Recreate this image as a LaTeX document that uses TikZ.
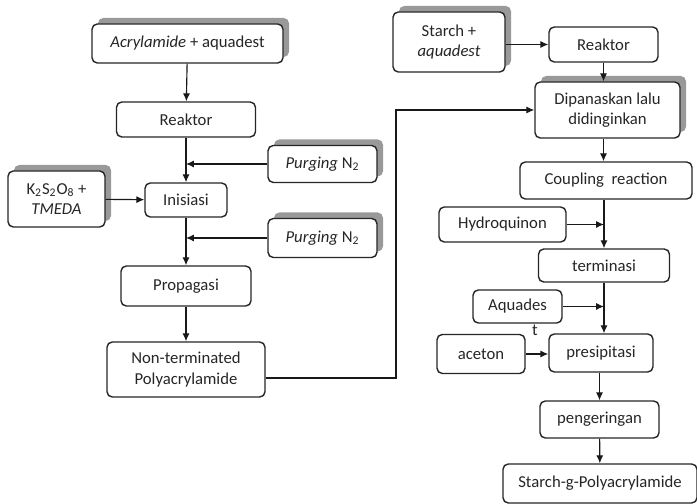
\documentclass[tikz,border=0pt]{standalone}
\usepackage{fontspec}
\setmainfont{Carlito}
\usetikzlibrary{arrows.meta,shadows}

\begin{document}
\begin{tikzpicture}[
  font=\fontsize{9.5}{11.5}\selectfont,
  box/.style={draw=black!85, fill=white, rounded corners=3pt, line width=0.8pt, align=center, inner sep=2pt, text=black!85},
  shadowbox/.style={box, drop shadow={shadow xshift=0.12cm, shadow yshift=0.12cm, fill=black!40, opacity=1, rounded corners=3pt}},
  wh/.style 2 args={minimum width=#1cm, minimum height=#2cm},
  flow/.style={-{Latex[length=4.5pt,width=4pt]}, line width=0.65pt, draw=black!90},
  pipe/.style={line width=0.65pt, draw=black!90}
]
\useasboundingbox (0,0) rectangle (13.94,10.08);

% polyacrylamide side
\node[shadowbox, wh={3.82}{0.78}] (acryl) at (3.75,9.21) {\textit{Acrylamide} + aquadest};
\node[box, wh={2.78}{0.70}] (reaktorA) at (3.72,7.69) {Reaktor};
\node[box, wh={1.64}{0.68}] (inisiasi) at (3.72,6.08) {Inisiasi};
\node[box, wh={2.60}{0.80}] (propagasi) at (3.72,4.36) {Propagasi};
\node[box, wh={3.16}{1.10}] (nonterm) at (3.72,2.69) {Non-terminated\\Polyacrylamide};

\node[shadowbox, wh={2.18}{0.74}] (purgeA) at (6.45,6.80) {\textit{Purging} N\textsubscript{2}};
\node[shadowbox, wh={2.18}{0.78}] (purgeB) at (6.45,5.32) {\textit{Purging} N\textsubscript{2}};
\node[shadowbox, wh={1.94}{1.12}] (oxid) at (1.13,6.10) {K\textsubscript{2}S\textsubscript{2}O\textsubscript{8} +\\\textit{TMEDA}};

\draw[flow] (acryl) -- (reaktorA);
\draw[flow] (reaktorA) -- (inisiasi);
\draw[flow] (inisiasi) -- (propagasi);
\draw[flow] (propagasi) -- (nonterm);
\draw[flow] (purgeA.west) -- (purgeA.west -| reaktorA.south);
\draw[flow] (purgeB.west) -- (purgeB.west -| inisiasi.south);
\draw[flow] (oxid) -- (inisiasi);

% starch side
\node[shadowbox, wh={2.24}{1.20}] (starch) at (8.98,9.24) {Starch +\\\textit{aquadest}};
\node[box, wh={2.18}{0.70}] (reaktorB) at (12.07,9.19) {Reaktor};
\node[shadowbox, wh={2.90}{1.12}] (dipanas) at (12.15,7.88) {Dipanaskan lalu\\didinginkan};
\node[box, wh={3.44}{0.74}] (coupling) at (12.12,6.47) {Coupling~ reaction};
\node[box, wh={2.54}{0.70}] (hydro) at (10.05,5.59) {Hydroquinon};
\node[box, wh={2.62}{0.66}] (terminasi) at (12.08,4.77) {terminasi};
\node[box, wh={1.78}{0.66}, label={[inner sep=0pt, xshift=0.35cm, yshift=-0.02cm, text=black!85]below:t}] (aquades) at (10.35,3.95) {Aquades};
\node[box, wh={1.76}{0.78}] (aceton) at (9.62,3.00) {aceton};
\node[box, wh={2.08}{0.76}] (presipitasi) at (12.02,3.02) {presipitasi};
\node[box, wh={2.38}{0.74}] (kering) at (11.99,1.69) {pengeringan};
\node[box, wh={3.88}{0.78}] (produk) at (12.00,0.41) {Starch-g-Polyacrylamide};

\draw[flow] (starch.east |- reaktorB.west) -- (reaktorB.west);
\draw[flow] (reaktorB.south) -- (reaktorB.south |- dipanas.north);
\draw[flow] (reaktorB.south |- dipanas.south) -- (reaktorB.south |- coupling.north);
\draw[flow] (terminasi.north |- coupling.south) -- (terminasi.north);
\draw[flow] (hydro.east) -- (hydro.east -| terminasi.north);
\draw[flow] (terminasi.south) -- (terminasi.south |- presipitasi.north);
\draw[flow] (aquades.east) -- (aquades.east -| terminasi.south);
\draw[flow] (aceton.east) -- (aceton.east -| presipitasi.west);
\draw[flow] (presipitasi.south -| kering.north) -- (kering.north);
\draw[flow] (kering) -- (produk);

% link between the two routes
\coordinate (bend) at (7.92,5);
\draw[flow] ([yshift=-0.17cm]nonterm.east) -| (bend) |- (dipanas.west);
\end{tikzpicture}
\end{document}
